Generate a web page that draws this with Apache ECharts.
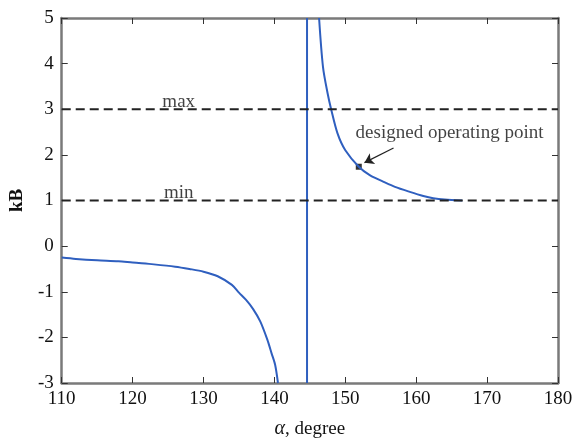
<!DOCTYPE html>
<html>
<head>
<meta charset="utf-8">
<script src="https://cdn.jsdelivr.net/npm/echarts@6/dist/echarts.min.js"></script>
<style>
  html, body { margin: 0; padding: 0; background: #fff; }
  #main { width: 579px; height: 446px; }
</style>
</head>
<body>
<div id="main"></div>
<script>
// branch left of the asymptote
var leftAlpha = [110, 112, 115, 118, 120, 123, 126, 128, 130, 132, 134, 135, 136, 137, 138, 139, 139.6, 140.1, 140.5];
var leftKB = [-0.25, -0.28, -0.31, -0.33, -0.36, -0.4, -0.45, -0.5, -0.56, -0.66, -0.85, -1.02, -1.18, -1.38, -1.65, -2.05, -2.35, -2.6, -3];
// branch right of the asymptote
var rightAlpha = [146.3, 146.85, 147.5, 148, 148.9, 150, 151.9, 153.5, 155.4, 157, 159.1, 161, 162.4, 164, 166.5];
var rightKB = [5, 3.93, 3.35, 3.0, 2.47, 2.1, 1.74, 1.55, 1.41, 1.3, 1.19, 1.1, 1.05, 1.02, 1.0];
var asymptote = 144.6;
var maxKB = 3, minKB = 1;
var operating = [151.9, 1.74];
var xRange = [110, 180];
var yRange = [-3, 5];

function pairs(xs, ys) {
  return xs.map(function (x, i) { return [x, ys[i]]; });
}

var serif = 'Liberation Serif';
var blue = '#2f5fbf';
var frame = { onZero: false, lineStyle: { color: '#7a7a7a', width: 2.5 } };
var ticks = { inside: true, length: 6, lineStyle: { color: '#333' } };

var myChart = echarts.init(document.getElementById('main'));
var option = {
  animation: false,
  grid: { left: 53, right: 21, top: 18, bottom: 63 },
  xAxis: [{
    type: 'value', min: xRange[0], max: xRange[1], interval: 10,
    name: '{a|α}, degree', nameLocation: 'middle', nameGap: 36,
    nameTextStyle: {
      fontFamily: serif, fontSize: 19, color: '#111',
      rich: { a: { fontFamily: serif, fontStyle: 'italic', fontSize: 20, color: '#111' } }
    },
    axisLine: frame, axisTick: ticks,
    axisLabel: { fontFamily: serif, fontSize: 19, color: '#111', margin: 7 },
    splitLine: { show: false }
  }, {
    type: 'value', position: 'top', min: xRange[0], max: xRange[1], interval: 10,
    axisLine: frame, axisTick: ticks,
    axisLabel: { show: false },
    splitLine: { show: false }
  }],
  yAxis: [{
    type: 'value', min: yRange[0], max: yRange[1], interval: 1,
    name: 'kB', nameLocation: 'middle', nameGap: 30,
    nameTextStyle: { fontFamily: serif, fontSize: 19, fontWeight: 'bold', color: '#111' },
    axisLine: frame, axisTick: ticks,
    axisLabel: { fontFamily: serif, fontSize: 19, color: '#111', margin: 8 },
    splitLine: { show: false }
  }, {
    type: 'value', position: 'right', min: yRange[0], max: yRange[1], interval: 1,
    axisLine: frame, axisTick: ticks,
    axisLabel: { show: false },
    splitLine: { show: false }
  }],
  series: [{
    type: 'line', data: pairs(leftAlpha, leftKB), symbol: 'none', smooth: 0.3,
    lineStyle: { color: blue, width: 2 }
  }, {
    type: 'line', data: pairs(rightAlpha, rightKB), symbol: 'none', smooth: 0.3,
    lineStyle: { color: blue, width: 2 }
  }, {
    type: 'line', data: [[asymptote, yRange[0]], [asymptote, yRange[1]]], symbol: 'none',
    lineStyle: { color: blue, width: 2 }
  }, {
    type: 'line', data: [[xRange[0], maxKB], [xRange[1], maxKB]], symbol: 'none',
    lineStyle: { color: '#222', width: 1.8, type: [9, 5] }
  }, {
    type: 'line', data: [[xRange[0], minKB], [xRange[1], minKB]], symbol: 'none',
    lineStyle: { color: '#222', width: 1.8, type: [9, 5] }
  }, {
    type: 'scatter', symbol: 'rect', symbolSize: 6,
    itemStyle: { color: '#000' },
    data: [operating],
    markLine: {
      silent: true,
      symbol: ['none', 'arrow'], symbolSize: 9,
      lineStyle: { color: '#222', width: 1.2, type: 'solid' },
      label: { show: false },
      data: [[{ coord: [156.8, 2.15] }, { coord: [152.7, 1.83] }]]
    }
  }, {
    type: 'scatter', symbolSize: 0,
    data: [
      { value: [126.5, 3.16], name: 'max' },
      { value: [126.5, 1.16], name: 'min' },
      { value: [164.7, 2.48], name: 'designed operating point' }
    ],
    label: {
      show: true, position: 'inside', formatter: '{b}',
      fontFamily: serif, fontSize: 19, color: '#111'
    }
  }]
};
myChart.setOption(option);
</script>
</body>
</html>
